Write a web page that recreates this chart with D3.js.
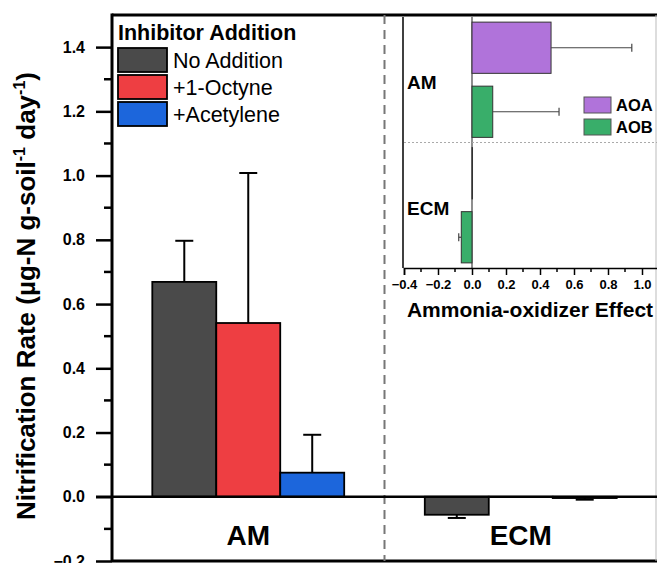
<!DOCTYPE html>
<html>
<head>
<meta charset="utf-8">
<script src="https://cdn.jsdelivr.net/npm/d3@7"></script>
<style>
  body { margin: 0; background: #fff; }
  text { font-family: "Liberation Sans", Arial, sans-serif; }
</style>
</head>
<body>
<div id="chart"></div>
<script>
// main chart data
var sites = ["AM", "ECM"];
var treatments = ["No Addition", "+1-Octyne", "+Acetylene"];
var rateValues = [[0.669, 0.541, 0.075], [-0.056, -0.001, -0.004]];
var rateErrors = [[0.128, 0.467, 0.118], [0.010, 0.000, 0.005]];
var yTicks = [-0.2, 0.0, 0.2, 0.4, 0.6, 0.8, 1.0, 1.2, 1.4];
var treatColors = ["#4a4a4a", "#ee3e42", "#1c66dc"];

// inset data
var oxidizers = ["AOA", "AOB"];
var effectValues = [[0.465, 0.122], [0.003, -0.063]];
var effectErrors = [[0.475, 0.39], [0.0, 0.015]];
var xTicksInset = [-0.4, -0.2, 0.0, 0.2, 0.4, 0.6, 0.8, 1.0];
var oxColors = ["#b073da", "#39ae6a"];

var W = 657, H = 563;
var svg = d3.select("#chart").append("svg").attr("width", W).attr("height", H);

var pL = 112, pT = 15, pR = 657, pB = 561;

var y = d3.scaleLinear().domain([-0.2, 1.5]).range([pB, pT]);
var x = d3.scaleBand().domain(sites).range([pL, pR]);
var xi = d3.scaleBand().domain(treatments).range([0, x.bandwidth()]).paddingOuter(0.63);

// y axis
var yAxis = d3.axisLeft(y).tickValues(yTicks).tickSize(16).tickPadding(11)
  .tickFormat(d3.format(".1f"));
var ya = svg.append("g").attr("transform", "translate(" + pL + ",0)").call(yAxis);
ya.select(".domain").remove();
ya.selectAll("line").attr("stroke", "#000").attr("stroke-width", 2.5);
ya.selectAll("text").attr("font-size", 16).attr("font-weight", "bold").attr("fill", "#000")
  .attr("font-family", "Liberation Sans, Arial, sans-serif");

// minor ticks
var minor = d3.range(-0.1, 1.5, 0.2);
svg.append("g").selectAll("line").data(minor).join("line")
  .attr("x1", pL - 8).attr("x2", pL)
  .attr("y1", d => y(d)).attr("y2", d => y(d))
  .attr("stroke", "#000").attr("stroke-width", 2.5);

// frame
svg.append("line").attr("x1", pL).attr("x2", pL).attr("y1", pT - 1.5).attr("y2", pB)
  .attr("stroke", "#000").attr("stroke-width", 3);
svg.append("line").attr("x1", pL).attr("x2", pR).attr("y1", pT).attr("y2", pT)
  .attr("stroke", "#000").attr("stroke-width", 3);
svg.append("line").attr("x1", pL).attr("x2", pR).attr("y1", pB).attr("y2", pB)
  .attr("stroke", "#000").attr("stroke-width", 3);
svg.append("line").attr("x1", pR - 1).attr("x2", pR - 1).attr("y1", pT).attr("y2", pB)
  .attr("stroke", "#bbb").attr("stroke-width", 1);

// dashed separator
svg.append("line").attr("x1", x("ECM")).attr("x2", x("ECM")).attr("y1", pT).attr("y2", pB)
  .attr("stroke", "#777").attr("stroke-width", 2).attr("stroke-dasharray", "9,6");

// bars
sites.forEach(function (s, si) {
  var g = svg.append("g").attr("transform", "translate(" + x(s) + ",0)");
  treatments.forEach(function (t, ti) {
    var v = rateValues[si][ti], e = rateErrors[si][ti];
    var bx = xi(t), bw = xi.bandwidth();
    g.append("rect")
      .attr("x", bx).attr("width", bw)
      .attr("y", y(Math.max(0, v))).attr("height", Math.abs(y(v) - y(0)))
      .attr("fill", treatColors[ti]).attr("stroke", "#000").attr("stroke-width", 1.8);
    if (e > 0) {
      var cx = bx + bw / 2;
      var tip = v >= 0 ? v + e : v - e;
      g.append("line").attr("x1", cx).attr("x2", cx).attr("y1", y(v)).attr("y2", y(tip))
        .attr("stroke", "#000").attr("stroke-width", 2);
      g.append("line").attr("x1", cx - 9).attr("x2", cx + 9).attr("y1", y(tip)).attr("y2", y(tip))
        .attr("stroke", "#000").attr("stroke-width", 2);
    }
  });
  svg.append("text").attr("x", x(s) + x.bandwidth() / 2).attr("y", 545)
    .attr("text-anchor", "middle").attr("font-size", 28).attr("font-weight", "bold").text(s);
});

// zero line
svg.append("line").attr("x1", pL - 16).attr("x2", pR).attr("y1", y(0)).attr("y2", y(0))
  .attr("stroke", "#000").attr("stroke-width", 2.5);

// y title
var yt = svg.append("text").attr("transform", "translate(35," + 296 + ") rotate(-90)")
  .attr("text-anchor", "middle").attr("font-size", 26).attr("font-weight", "bold");
yt.append("tspan").text("Nitrification Rate (\u00b5g-N g-soil");
yt.append("tspan").attr("font-size", 16).attr("dy", -10).text("-1");
yt.append("tspan").attr("dy", 10).text(" day");
yt.append("tspan").attr("font-size", 16).attr("dy", -10).text("-1");
yt.append("tspan").attr("dy", 10).text(")");

// legend
svg.append("text").attr("x", 118).attr("y", 40).attr("font-size", 21.5).attr("font-weight", "bold")
  .text("Inhibitor Addition");
var leg = svg.append("g").selectAll("g").data(treatments).join("g")
  .attr("transform", (d, i) => "translate(118," + (48 + i * 27) + ")");
leg.append("rect").attr("width", 49).attr("height", 24)
  .attr("fill", (d, i) => treatColors[i]).attr("stroke", "#000").attr("stroke-width", 1.8);
leg.append("text").attr("x", 55).attr("y", 19.5).attr("font-size", 21.5).text(d => d);

// ---------- inset ----------
var iTop = 17, iBottom = 268, iLeft = 404, iRight = 659;
var xs = d3.scaleLinear().domain([-0.4, 1.1]).range([iLeft, iRight]);
var ys = d3.scaleBand().domain(sites).range([iTop, iBottom]);
var yo = d3.scaleBand().domain(oxidizers).range([0, ys.bandwidth()]).paddingInner(0.2).paddingOuter(0.08);

var inset = svg.append("g");
// zero line
inset.append("line").attr("x1", xs(0)).attr("x2", xs(0)).attr("y1", iTop).attr("y2", iBottom)
  .attr("stroke", "#444").attr("stroke-width", 1.2);
// dotted divider
inset.append("line").attr("x1", iLeft).attr("x2", iRight).attr("y1", ys("ECM")).attr("y2", ys("ECM"))
  .attr("stroke", "#aaa").attr("stroke-width", 1).attr("stroke-dasharray", "2,2");

sites.forEach(function (s, si) {
  oxidizers.forEach(function (o, oi) {
    var v = effectValues[si][oi], e = effectErrors[si][oi];
    var by = ys(s) + yo(o), bh = yo.bandwidth();
    inset.append("rect")
      .attr("x", xs(Math.min(0, v))).attr("width", Math.abs(xs(v) - xs(0)))
      .attr("y", by).attr("height", bh)
      .attr("fill", oxColors[oi]).attr("stroke", "#333").attr("stroke-width", 1);
    var cy = by + bh / 2;
    if (e > 0) {
      var tip = v >= 0 ? v + e : v - e;
      inset.append("line").attr("x1", xs(v)).attr("x2", xs(tip)).attr("y1", cy).attr("y2", cy)
        .attr("stroke", "#444").attr("stroke-width", 1.2);
      inset.append("line").attr("x1", xs(tip)).attr("x2", xs(tip)).attr("y1", cy - 4).attr("y2", cy + 4)
        .attr("stroke", "#444").attr("stroke-width", 1.2);
    }
  });
  inset.append("text").attr("x", 407).attr("y", ys(s) + 72)
    .attr("font-size", 19).attr("font-weight", "bold").text(s);
});

// inset axes
inset.append("line").attr("x1", iLeft - 1).attr("x2", iLeft - 1).attr("y1", iTop).attr("y2", iBottom)
  .attr("stroke", "#000").attr("stroke-width", 1.5);
var xAxisI = d3.axisBottom(xs).tickValues(xTicksInset).tickSize(7).tickPadding(5)
  .tickFormat(d3.format(".1f"));
var xa = inset.append("g").attr("transform", "translate(0," + iBottom + ")").call(xAxisI);
xa.select(".domain").attr("stroke", "#000").attr("stroke-width", 1.5);
xa.selectAll("line").attr("stroke", "#000").attr("stroke-width", 1.5);
xa.selectAll("text").attr("font-size", 13).attr("font-weight", "bold").attr("fill", "#000")
  .attr("font-family", "Liberation Sans, Arial, sans-serif");
inset.append("g").selectAll("line").data(d3.range(-0.3, 1.1, 0.2)).join("line")
  .attr("x1", d => xs(d)).attr("x2", d => xs(d)).attr("y1", iBottom).attr("y2", iBottom + 4)
  .attr("stroke", "#000").attr("stroke-width", 1.5);

inset.append("text").attr("x", 530).attr("y", 317).attr("text-anchor", "middle")
  .attr("font-size", 21).attr("font-weight", "bold").text("Ammonia-oxidizer Effect");

// inset legend
var il = inset.append("g").selectAll("g").data(oxidizers).join("g")
  .attr("transform", (d, i) => "translate(584," + (97 + i * 22) + ")");
il.append("rect").attr("width", 27).attr("height", 16)
  .attr("fill", (d, i) => oxColors[i]).attr("stroke", "#555").attr("stroke-width", 1);
il.append("text").attr("x", 32).attr("y", 14).attr("font-size", 16.5).attr("font-weight", "bold").text(d => d);
</script>
</body>
</html>
